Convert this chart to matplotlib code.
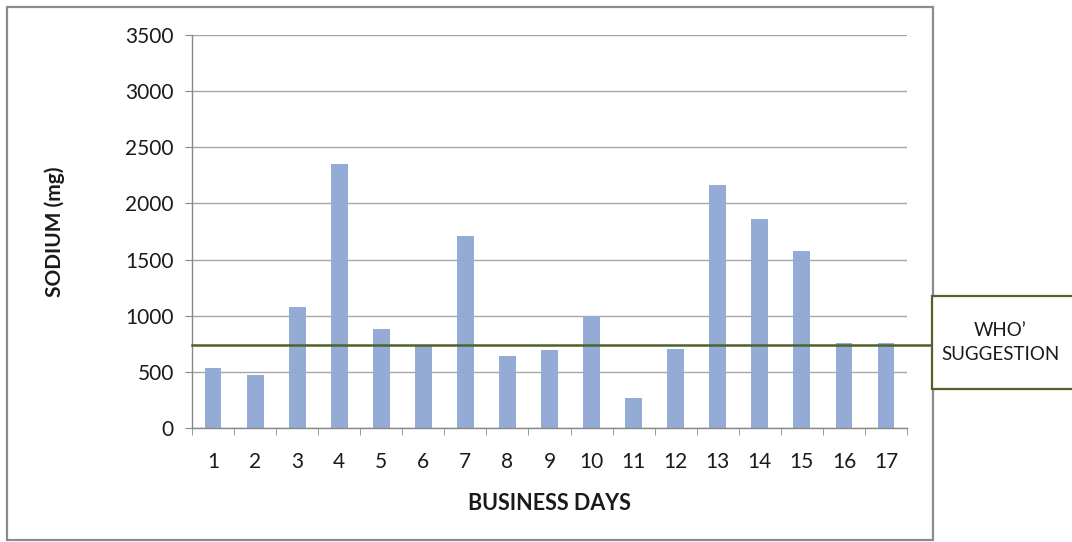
import matplotlib
matplotlib.use("Agg")
import matplotlib.pyplot as plt
from matplotlib.patches import Rectangle

plt.rcParams['font.family'] = ['Lato', 'DejaVu Sans']

# data
days = [str(i) for i in range(1, 18)]
sodium = [530, 472, 1080, 2355, 880, 730, 1710, 640, 695, 1000, 265, 707, 2160, 1865, 1578, 760, 760]
who_limit = 740
yticks = [0, 500, 1000, 1500, 2000, 2500, 3000, 3500]

W, H = 1072, 542
fig = plt.figure(figsize=(W/100, H/100), dpi=100)
fig.patch.set_facecolor("white")

def px(x0, y0, x1, y1):
    # pixel box (top-left origin) -> figure fractions
    return [x0/W, 1-y1/H, (x1-x0)/W, (y1-y0)/H]

# outer chart frame
fig.patches.append(Rectangle((7/W, 1-540/H), (933-7)/W, (540-7)/H, transform=fig.transFigure,
                             fill=False, edgecolor="#8c8c8c", linewidth=1.6, zorder=0))

ax = fig.add_axes(px(192, 35, 907, 428))
x = list(range(len(days)))
ax.bar(x, sodium, width=0.4, color="#94acd5", zorder=2)

ax.set_xlim(-0.5, len(days)-0.5)
ax.set_ylim(0, 3500)
ax.set_yticks(yticks)
ax.set_yticklabels([str(v) for v in yticks])
ax.set_xticks(x)
ax.set_xticklabels(days)
ax.set_xticks([i+0.5 for i in range(-1, len(days))], minor=True)

ax.grid(axis="y", color="#a6a6a6", linewidth=1.0, zorder=0)
for s in ["top", "right"]:
    ax.spines[s].set_visible(False)
for s in ["left", "bottom"]:
    ax.spines[s].set_color("#888888")
    ax.spines[s].set_linewidth(1.0)

ax.tick_params(axis="y", direction="out", length=5, color="#888888", labelsize=15, pad=8, labelcolor="#1a1a1a")
ax.tick_params(axis="x", which="major", length=0, labelsize=15, pad=17, labelcolor="#1a1a1a")
ax.tick_params(axis="x", which="minor", direction="out", length=5, color="#888888")

ax.set_xlabel("BUSINESS DAYS", fontsize=15.5, fontweight="bold", color="#1a1a1a")
ax.set_ylabel("SODIUM (mg)", fontsize=15, fontweight="bold", color="#1a1a1a")
ax.xaxis.set_label_coords(0.5, (428-504)/393, transform=ax.transAxes)
ax.xaxis.label.set_va("center")
ax.yaxis.set_label_coords((55-192)/715, 0.5, transform=ax.transAxes)
ax.yaxis.label.set_va("center")

# WHO suggestion line, running out to the box
ax.plot([0, (932-192)/(907-192)], [who_limit, who_limit], transform=ax.get_yaxis_transform(),
        color="#4f6228", linewidth=1.8, clip_on=False, zorder=3)

# WHO box
fig.patches.append(Rectangle((932/W, 1-389/H), (1080-932)/W, (389-296)/H, transform=fig.transFigure,
                             facecolor="white", edgecolor="#4f6228", linewidth=1.6, zorder=5))
fig.text(1000/W, 1-343/H, "WHO’\nSUGGESTION", ha="center", va="center", fontsize=13.5,
         linespacing=1.5, color="#1a1a1a", zorder=6)

fig.savefig("out.png", dpi=100, facecolor="white")
